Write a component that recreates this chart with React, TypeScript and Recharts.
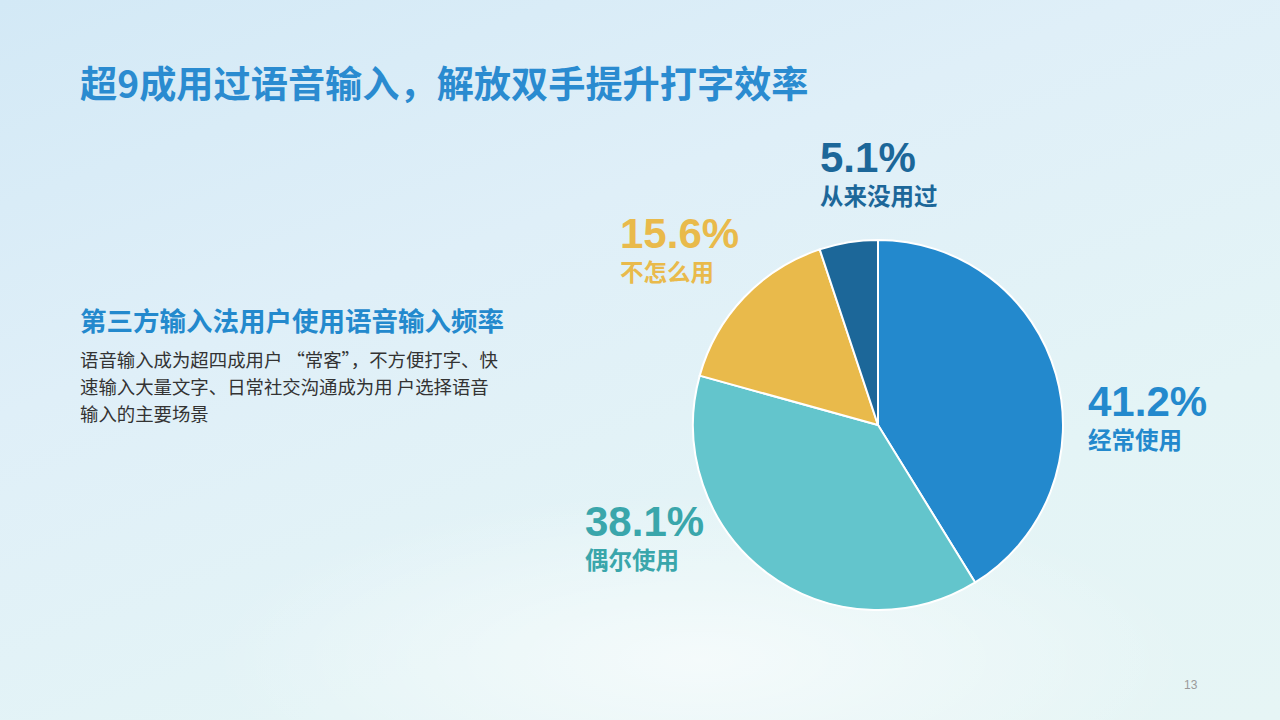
import React from "react";
import { PieChart, Pie, Cell } from "recharts";

const categories = ["经常使用", "偶尔使用", "不怎么用", "从来没用过"];
const shares = [41.2, 38.1, 15.6, 5.1];
const sliceColors = ["#2389CD", "#63C5CC", "#E9BA4B", "#1C6799"];
const labelColors = ["#2389CD", "#3AA6AB", "#E9BA4B", "#1C6799"];
// label anchor offsets relative to pie centre (layout only)
const labelOffsets = [
  { dx: 210, dy: -9 },
  { dx: -293, dy: 111 },
  { dx: -258, dy: -177 },
  { dx: -58, dy: -253 },
];

const data = categories.map((name, i) => ({ name, value: shares[i] }));

const CJK = '"Noto Sans CJK SC", "Noto Sans", sans-serif';
const NUM = '"Liberation Sans", Arial, "Noto Sans CJK SC", sans-serif';

const renderLabel = (props: any) => {
  const { cx, cy, index, value } = props;
  const o = labelOffsets[index];
  const x = cx + o.dx;
  const y = cy + o.dy;
  const c = labelColors[index];
  return (
    <g key={`lbl-${index}`}>
      <text x={x} y={y} fill={c} fontFamily={NUM} fontWeight={700} fontSize={42} textAnchor="start">
        {Number(value).toFixed(1)}%
      </text>
      <text x={x} y={y + 33} fill={c} fontFamily={CJK} fontWeight={700} fontSize={23.5} textAnchor="start">
        {categories[index]}
      </text>
    </g>
  );
};

export default function App() {
  return (
    <div
      style={{
        position: "absolute",
        left: 0,
        top: 0,
        width: 1280,
        height: 720,
        overflow: "hidden",
        background:
          "radial-gradient(ellipse 700px 240px at 700px 660px, rgba(255,255,255,0.6), rgba(255,255,255,0) 70%), linear-gradient(160deg, #d3e9f6 0%, #dfeff8 35%, #e4f4f6 70%, #e6f5f5 100%)",
        fontFamily: CJK,
      }}
    >
      <div
        style={{
          position: "absolute",
          left: 80,
          top: 58,
          fontSize: 37.2,
          fontWeight: 700,
          color: "#2A8BD0",
          whiteSpace: "nowrap",
          lineHeight: "48px",
        }}
      >
        超9成用过语音输入，解放双手提升打字效率
      </div>
      <div
        style={{
          position: "absolute",
          left: 80,
          top: 302,
          fontSize: 26.5,
          fontWeight: 700,
          color: "#2389CD",
          whiteSpace: "nowrap",
          lineHeight: "36px",
        }}
      >
        第三方输入法用户使用语音输入频率
      </div>
      <div
        style={{
          position: "absolute",
          left: 80,
          top: 346,
          fontSize: 18.4,
          color: "#333333",
          lineHeight: "27px",
          whiteSpace: "nowrap",
        }}
      >
        语音输入成为超四成用户 “常客”，不方便打字、快
        <br />
        速输入大量文字、日常社交沟通成为用 户选择语音
        <br />
        输入的主要场景
      </div>
      <div
        style={{
          position: "absolute",
          left: 1184,
          top: 678,
          fontSize: 12,
          color: "#9a9a9a",
          fontFamily: NUM,
        }}
      >
        13
      </div>
      <div style={{ position: "absolute", left: 0, top: 0 }}>
        <PieChart width={1280} height={720} margin={{ top: 0, right: 0, bottom: 0, left: 0 }}>
          <Pie
            data={data}
            dataKey="value"
            nameKey="name"
            cx={878}
            cy={425}
            outerRadius={185}
            startAngle={90}
            endAngle={-270}
            stroke="#ffffff"
            strokeWidth={2}
            label={renderLabel}
            labelLine={false}
            isAnimationActive={false}
          >
            {data.map((d, i) => (
              <Cell key={d.name} fill={sliceColors[i]} />
            ))}
          </Pie>
        </PieChart>
      </div>
    </div>
  );
}
